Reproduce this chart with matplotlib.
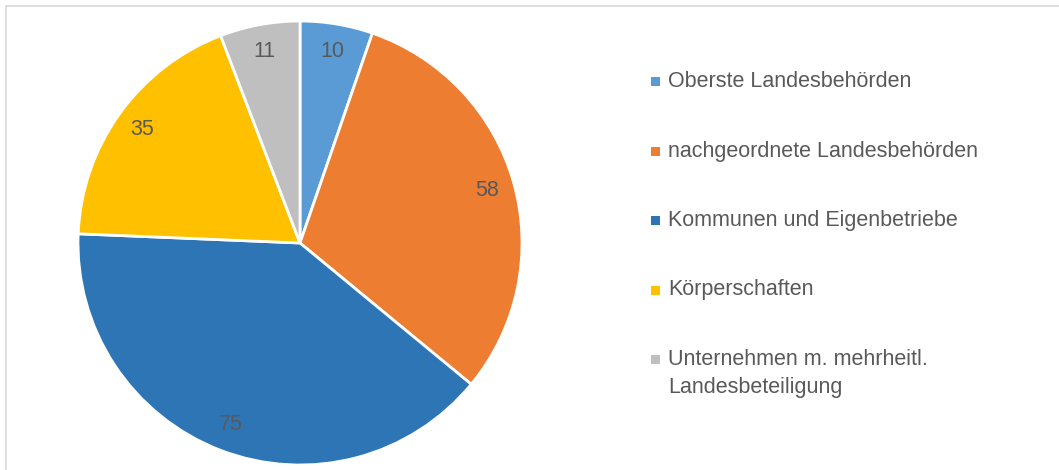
import matplotlib
matplotlib.use("Agg")
import matplotlib.pyplot as plt
from matplotlib.patches import Rectangle
from matplotlib.lines import Line2D

categories = ["Oberste Landesbehörden", "nachgeordnete Landesbehörden",
              "Kommunen und Eigenbetriebe", "Körperschaften",
              "Unternehmen m. mehrheitl.\nLandesbeteiligung"]
values = [10, 58, 75, 35, 11]
colors = ["#5B9BD5", "#ED7D31", "#2E75B6", "#FFC000", "#BFBFBF"]

plt.rcParams["font.family"] = ["Liberation Sans", "DejaVu Sans"]
txt = "#595959"

W, H = 1059, 470
fig = plt.figure(figsize=(W / 100, H / 100), dpi=100)
fig.patch.set_facecolor("white")

# border (top and left visible)
fig.add_artist(Line2D([6 / W, 6 / W], [0, 1 - 6 / H], transform=fig.transFigure, color="#D9D9D9", lw=1.2))
fig.add_artist(Line2D([6 / W, 1], [1 - 6 / H, 1 - 6 / H], transform=fig.transFigure, color="#D9D9D9", lw=1.2))

cx, cy, r = 300, 243, 222
ax = fig.add_axes([(cx - r) / W, (H - cy - r) / H, 2 * r / W, 2 * r / H])
wedges, texts = ax.pie(values, colors=colors, startangle=90, counterclock=False,
                       labels=[str(v) for v in values], labeldistance=0.875,
                       wedgeprops=dict(edgecolor="white", linewidth=2),
                       textprops=dict(color=txt, fontsize=15.5))
for t in texts:
    t.set_ha("center")
    t.set_va("center")
ax.set_xlim(-1, 1)
ax.set_ylim(-1, 1)
ax.set_aspect("equal")
ax.axis("off")

# legend
for i, (lab, col) in enumerate(zip(categories, colors)):
    yc = 81.5 + i * 69.5
    fig.add_artist(Rectangle((651 / W, 1 - (yc + 4.5) / H), 9 / W, 9 / H,
                             transform=fig.transFigure, facecolor=col, edgecolor="none"))
    lines = lab.split("\n")
    for k, line in enumerate(lines):
        fig.text(668 / W, 1 - (yc + 28 * k) / H, line, color=txt, fontsize=15.5,
                 va="center", ha="left")

fig.savefig("out.png", dpi=100, facecolor="white")
